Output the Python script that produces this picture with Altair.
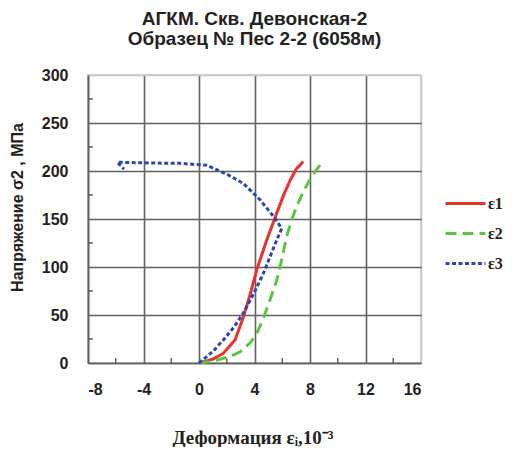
import altair as alt
import pandas as pd

series_names = ["ε1", "ε2", "ε3"]
series_colors = ["#e8322b", "#5cc540", "#2a48b0"]

e1_x = [0, 1.0, 1.75, 2.6, 3.2, 3.7, 4.16, 4.88, 5.6, 6.1, 6.56, 7.0, 7.4, 7.5]
e1_y = [0, 4, 10, 24, 48, 72, 97, 128, 156, 175, 190, 202, 208, 210]

e2_x = [0, 1.0, 2.2, 3.0, 3.7, 4.2, 4.6, 5.1, 5.6, 6.0, 6.3, 6.7, 7.04, 7.5, 8.0, 8.5, 8.84, 8.95]
e2_y = [0, 2, 6.5, 12, 21, 32, 45, 65, 86, 110, 131, 150, 163, 178, 191, 202, 208, 210]

e3_x = [0, 1.0, 1.75, 2.5, 3.2, 4.0, 4.63, 5.1, 5.6, 5.96, 5.48, 4.4, 3.2, 2.1, 0.55, 0.0,
        -1.37, -2.3, -4.25, -5.57, -5.9, -5.4]
e3_y = [0, 12, 24, 37, 52, 74, 93, 110, 128, 140, 150.7, 170, 187, 196, 206, 206.5,
        208, 208, 208.6, 209, 209, 202]

x_ticks = [-8, -4, 0, 4, 8, 12, 16]
y_ticks = [0, 50, 100, 150, 200, 250, 300]
x_minor = [-6, -2, 2, 6, 10, 14]
y_minor = [25, 75, 125, 175, 225, 275]

title_lines = ["АГКМ. Скв. Девонская-2", "Образец № Пес 2-2 (6058м)"]
x_title = "Деформация εᵢ,10⁻³"
y_title = "Напряжение σ2 , МПа"

rows = []
for name, xs, ys in [("ε1", e1_x, e1_y), ("ε2", e2_x, e2_y), ("ε3", e3_x, e3_y)]:
    for i, (a, b) in enumerate(zip(xs, ys)):
        rows.append({"series": name, "idx": i, "x": a, "y": b})
df = pd.DataFrame(rows)

W, H = 333, 288
xscale = alt.Scale(domain=[-8, 16], nice=False, zero=False)
yscale = alt.Scale(domain=[0, 300], nice=False)

legend = alt.Legend(
    title=None, orient="none", legendX=356, legendY=107,
    symbolType="stroke", symbolSize=1600, symbolStrokeWidth=3,
    labelFont="Liberation Serif", labelFontSize=16, labelFontWeight="bold",
    labelColor="#222", rowPadding=-13, labelOffset=1,
)

grid_x = {"condition": {"test": "datum.value === 16", "value": "#c8c8c8"}, "value": "#606060"}
grid_y = {"condition": {"test": "datum.value === 300", "value": "#c8c8c8"}, "value": "#606060"}

lines = alt.Chart(df).mark_line(strokeWidth=3).encode(
    x=alt.X("x:Q", scale=xscale, title=x_title,
            axis=alt.Axis(values=x_ticks, format="d", titleX=W / 2 - 2, titleY=74,
                          titleBaseline="middle", gridColor=grid_x,
                          labelExpr="replace(datum.label, '\u2212', '-')")),
    y=alt.Y("y:Q", scale=yscale, title=y_title,
            axis=alt.Axis(values=y_ticks, titleX=-71, titleY=132, titleBaseline="middle",
                          gridColor=grid_y)),
    color=alt.Color("series:N", scale=alt.Scale(domain=series_names, range=series_colors),
                    legend=legend),
    strokeDash=alt.StrokeDash("series:N",
                              scale=alt.Scale(domain=series_names, range=[[1, 0], [11, 6], [4, 2.5]]),
                              legend=legend),
    order="idx:Q",
)

xm = alt.Chart(pd.DataFrame({"x": x_minor})).mark_rule(color="#606060", strokeWidth=1.5).encode(
    x=alt.X("x:Q", scale=xscale, title=x_title), y=alt.value(H), y2=alt.value(H - 5))
ym = alt.Chart(pd.DataFrame({"y": y_minor})).mark_rule(color="#606060", strokeWidth=1.5).encode(
    y=alt.Y("y:Q", scale=yscale, title=y_title), x=alt.value(0), x2=alt.value(5))

chart = alt.layer(xm, ym, lines).properties(
    width=W, height=H,
    autosize=alt.AutoSizeParams(type="none"),
    padding={"left": 80, "top": 67, "right": 87, "bottom": 84},
    title=alt.Title(title_lines, font="Liberation Sans", fontSize=19, fontWeight="bold",
                    color="#222", anchor="middle", offset=18, lineHeight=20),
).configure_view(
    stroke="#c8c8c8", strokeWidth=1.5
).configure_axis(
    grid=True, gridWidth=1.6,
    domainColor="#606060", domainWidth=1.6,
    ticks=False,
    labelFont="Liberation Sans", labelFontSize=16, labelFontWeight="bold", labelColor="#222",
    titleColor="#222", titleFontWeight="bold",
).configure_axisX(
    labelPadding=18, titleFont="Liberation Serif", titleFontSize=19,
).configure_axisY(
    labelPadding=20, titleFont="Liberation Sans", titleFontSize=16,
)

chart.save("out.html", embed_options={"renderer": "svg", "actions": False})
